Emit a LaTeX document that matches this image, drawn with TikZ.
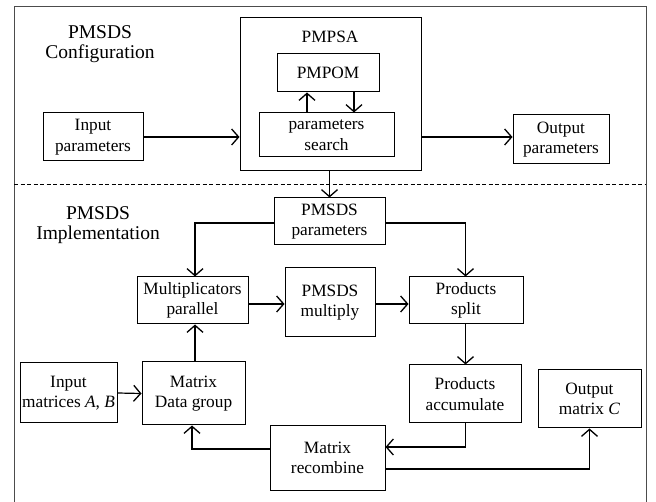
\documentclass[tikz,border=0pt]{standalone}
\usepackage{fontspec}
\setmainfont{Liberation Serif}
\usetikzlibrary{arrows.meta,calc}
\begin{document}
\begin{tikzpicture}[x=1pt,y=-1pt,
  box/.style={draw,line width=1pt,inner sep=0pt,align=center,font=\fontsize{17.3}{20.5}\selectfont},
  lbl/.style={inner sep=0pt,align=center,font=\fontsize{19.5}{19.5}\selectfont},
  arr/.style={line width=1.2pt,-{Straight Barb[length=7pt,width=16pt,line width=1.3pt]}},
  framec/.style={line width=1pt,draw=black!70}]
\useasboundingbox (0,0) rectangle (656,502);
% frame
\draw[framec] (14,502) -- (14,7) -- (646,7) -- (646,502);
\coordinate (dl) at (14,184);
\coordinate (dr) at (646,184);
\draw[line width=0.9pt,dashed,dash pattern=on 4pt off 2.5pt] (dl) -- (dr);
% headings
\node[lbl] (cfg) at (100,44) {PMSDS\\Configuration};
\node[lbl] (impl) at (98,225) {PMSDS\\Implementation};
% configuration part
\node[box,minimum width=100pt,minimum height=48pt] (inpar) at (93,137) {Input\\parameters};
\node[box,minimum width=181pt,minimum height=153pt] (pmpsa) at (330.5,94.5) {};
\node[inner sep=0pt,font=\fontsize{17.3}{20.5}\selectfont] (pmpsat) at (330,37) {PMPSA};
\node[box,minimum width=102pt,minimum height=38pt] (pmpom) at (328,73) {PMPOM};
\node[box,minimum width=135pt,minimum height=44pt] (search) at (326.5,135) {parameters\\search};
\node[box,minimum width=96pt,minimum height=49pt] (outpar) at (561,139.5) {Output\\parameters};
\coordinate (upx) at (307,0);
\coordinate (dnx) at (354,0);
\draw[arr] (search.north -| upx) -- (pmpom.south -| upx);
\draw[arr] (pmpom.south -| dnx) -- (search.north -| dnx);
\draw[arr] (inpar.east) -- (inpar.east -| pmpsa.west);
\draw[arr] (pmpsa.east |- 0,137) -- (outpar.west |- 0,137);
% implementation part
\node[box,minimum width=111pt,minimum height=47pt] (pmsdsp) at (329.5,221.5) {PMSDS\\parameters};
\node[box,minimum width=111pt,minimum height=47pt] (mult) at (192.5,300.5) {Multiplicators\\parallel};
\node[box,minimum width=90pt,minimum height=69pt] (pmul) at (330,302.5) {PMSDS\\multiply};
\node[box,minimum width=114pt,minimum height=47pt] (split) at (466,300.5) {Products\\split};
\node[box,minimum width=112pt,minimum height=58pt] (accum) at (465,394) {Products\\accumulate};
\node[box,minimum width=103pt,minimum height=58pt] (outc) at (589.5,399) {Output\\matrix \textit{C}};
\node[box,minimum width=97pt,minimum height=60pt] (inmat) at (68.5,393) {Input\\matrices \textit{A}, \textit{B}};
\node[box,minimum width=103pt,minimum height=63pt] (dgrp) at (193.5,393.5) {Matrix\\Data group};
\node[box,minimum width=115pt,minimum height=64pt] (recomb) at (327.5,458) {Matrix\\recombine};
\coordinate (cx) at (195,0);
\coordinate (sx) at (465.5,0);
\draw[arr] (pmpsa.south -| pmsdsp.north) -- (pmsdsp.north);
\draw[arr] (pmsdsp.west |- 0,223) -| (mult.north -| cx);
\draw[arr] (pmsdsp.east |- 0,223) -| (split.north -| sx);
\draw[arr] (mult.east |- 0,304) -- (pmul.west |- 0,304);
\draw[arr] (pmul.east |- 0,304) -- (split.west |- 0,304);
\draw[arr] (split.south -| sx) -- (accum.north -| sx);
\draw[arr] (accum.south -| sx) |- (recomb.east |- 0,447);
\draw[arr] (recomb.west |- 0,449) -| (dgrp.south -| 192,0);
\draw[arr] (recomb.east |- 0,469) -| (outc.south);
\draw[arr] (inmat.east) -- (dgrp.west);
\draw[arr] (dgrp.north -| cx) -- (mult.south -| cx);
\end{tikzpicture}
\end{document}
